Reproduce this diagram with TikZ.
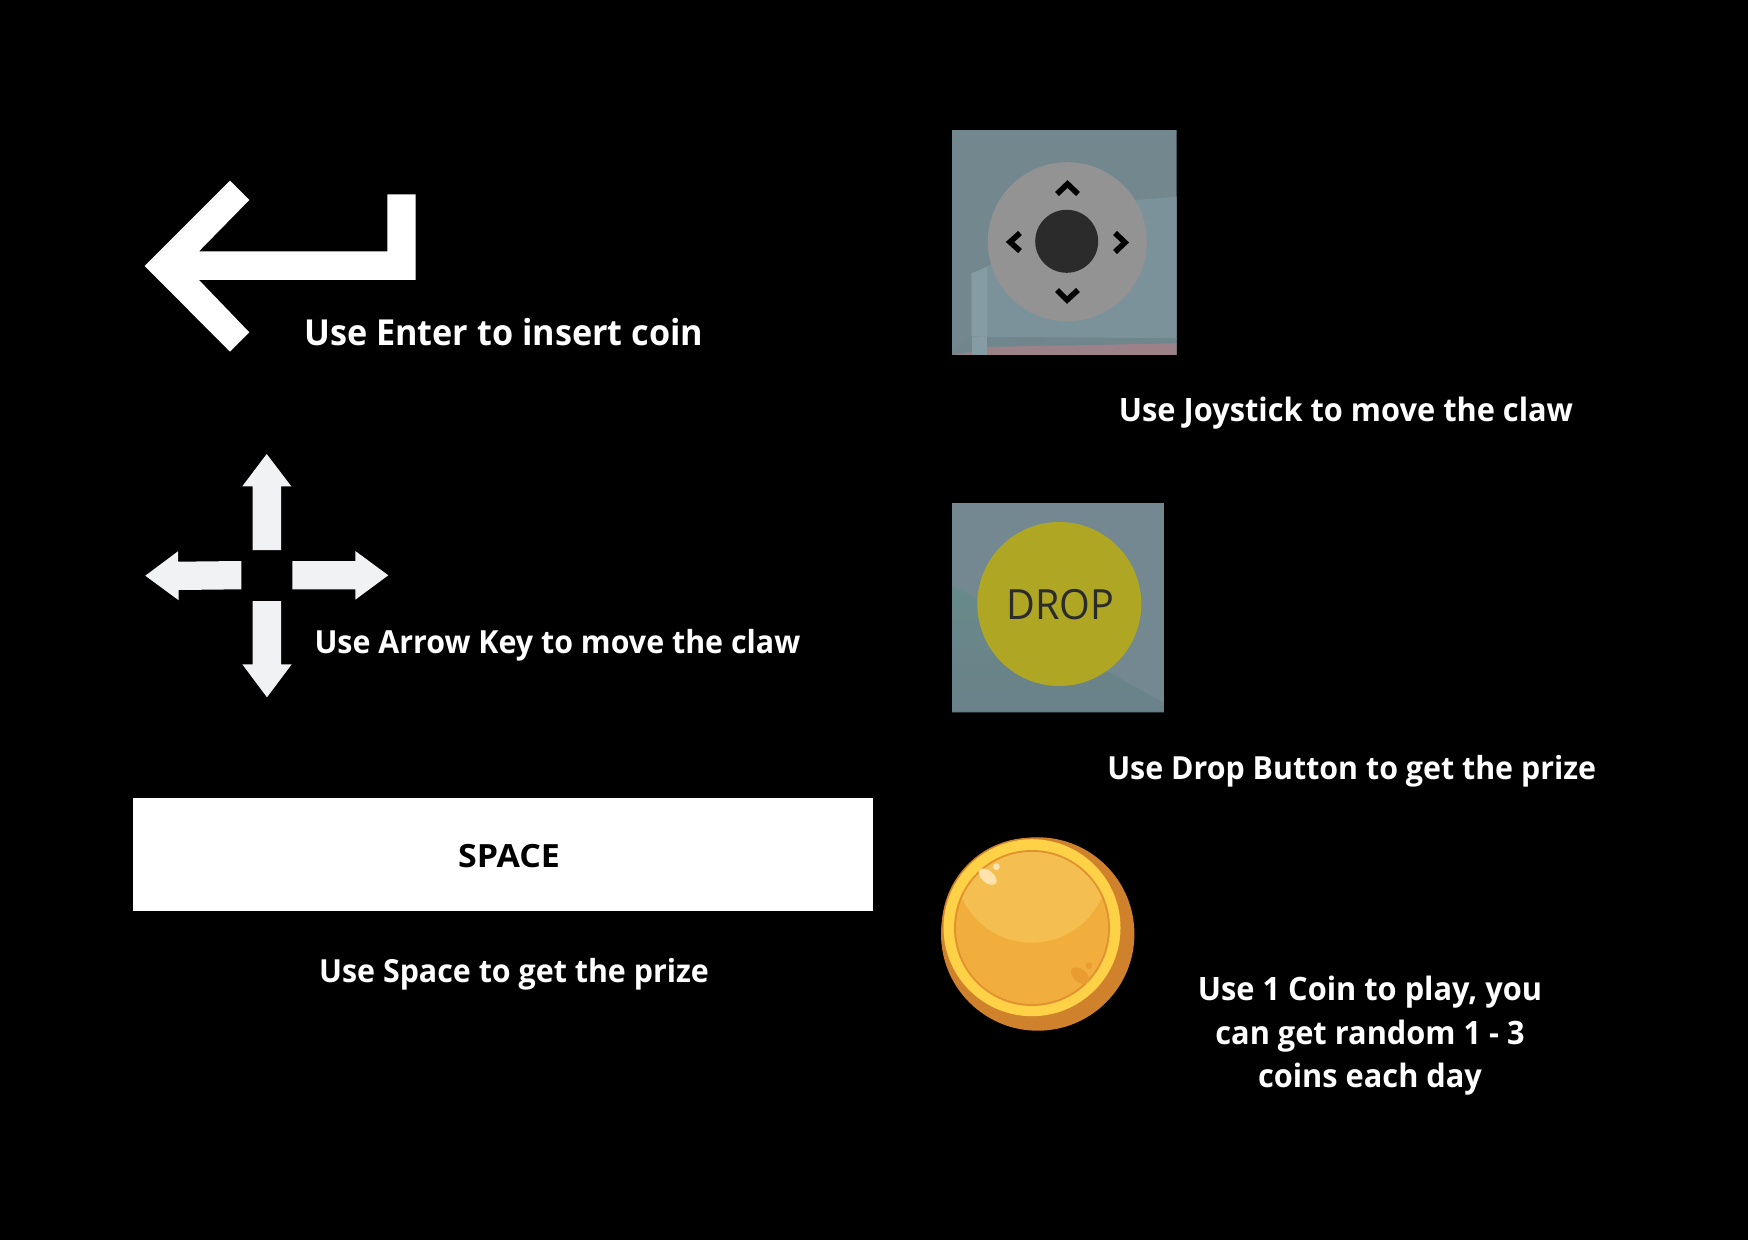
\documentclass[tikz,border=0pt]{standalone}
\usepackage{fontspec}
\setmainfont{Open Sans}
\newfontfamily\capfont[FakeStretch=0.955]{Open Sans}
\newfontfamily\dropfont[FakeStretch=0.95]{Open Sans}
\newfontfamily\spacefont[FakeStretch=1.06]{Open Sans}
\definecolor{joybg}{HTML}{72878E}
\definecolor{joylight}{HTML}{7C929A}
\definecolor{joypale}{HTML}{869CA4}
\definecolor{joypink}{HTML}{9C8189}
\definecolor{joyband}{HTML}{6F868D}
\definecolor{joygrey}{HTML}{939393}
\definecolor{joydark}{HTML}{2B2B2B}
\definecolor{dropbg}{HTML}{738890}
\definecolor{dropband}{HTML}{6A8189}
\definecolor{dropgreen}{HTML}{688A8A}
\definecolor{dropedge}{HTML}{5F7B97}
\definecolor{dropyellow}{HTML}{AFA723}
\definecolor{coinedge}{HTML}{D0812B}
\definecolor{coinring}{HTML}{FFD147}
\definecolor{coinline}{HTML}{E0922E}
\definecolor{coinface}{HTML}{F2AE3D}
\definecolor{coinlight}{HTML}{F5BE50}
\definecolor{coinshine}{HTML}{FFE3AE}
\definecolor{coinspot}{HTML}{E99C30}
\definecolor{keywhite}{HTML}{F1F2F4}
\tikzset{
  caption/.style={text=white,font=\fontsize{16.1}{19}\capfont\bfseries,inner sep=0pt,anchor=base},
  narrowcaption/.style={caption,font=\fontsize{15.9}{19}\capfont\bfseries},
  bigcaption/.style={caption,font=\fontsize{17.9}{21}\capfont\bfseries},
  keyarrow/.style={fill=keywhite,draw=none},
  chevron/.style={draw=black,line width=2.8pt,miter limit=10}
}
\begin{document}
\begin{tikzpicture}[x=0.5pt,y=-0.5pt]
\path[use as bounding box,fill=black] (0,0) rectangle (1748,1240);
% Enter key arrow
\fill[white] (144.7,266) -- (230,180.7) -- (249.3,200) -- (199,251.3) -- (387.3,251.3) -- (387.3,194.3) -- (415.7,194.3) -- (415.7,280) -- (199,280) -- (249.3,332.3) -- (230,351.7) -- cycle;
% Arrow keys
\fill[keyarrow] (266.7,454) -- (291.3,486.3) -- (281,486.3) -- (281,550) -- (252.7,550) -- (252.7,486.3) -- (242.3,486.3) -- cycle;
\fill[keyarrow] (252.7,601) -- (281,601) -- (281,664.3) -- (291.7,664.3) -- (267,697.3) -- (242.3,664.3) -- (252.7,664.3) -- cycle;
\fill[keyarrow] (145.3,575.7) -- (178,551.3) -- (178,561.7) -- (241.3,561) -- (241.3,589.3) -- (178.7,590) -- (178.7,600.3) -- cycle;
\fill[keyarrow] (292.3,561) -- (355.3,561) -- (355.3,551) -- (388.3,575.3) -- (355.3,599.7) -- (355.3,589.3) -- (292.3,589.3) -- cycle;
% Space bar
\node[fill=white,minimum width=370.25pt,minimum height=56.5pt,inner sep=0pt] (spacebar) at (502.75,854.8) {};
\node[text=black,font=\fontsize{16}{19}\spacefont\bfseries,inner sep=0pt,anchor=base] (spacelabel) at (509,867.3) {SPACE};
% Joystick picture
\begin{scope}
\clip (952,130.3) rectangle (1176.7,355);
\fill[joybg] (952,130.3) rectangle (1176.7,355);
\fill[joylight] (971.7,273.3) -- (1136.7,200) -- (1176.7,196.7) -- (1176.7,340) -- (971.7,340) -- cycle;
\fill[joypale] (971.7,273.3) -- (987,267) -- (987,355) -- (971.7,355) -- cycle;
\fill[joyband] (952,350) -- (971.7,336.7) -- (1176.7,338.3) -- (1176.7,345) -- (987,349) -- (952,355) -- cycle;
\fill[joypale] (971.7,337) -- (987,337) -- (987,355) -- (971.7,355) -- cycle;
\fill[joypink] (987,347) -- (1176.7,343.3) -- (1176.7,355) -- (987,355) -- cycle;
\fill[joypink] (952,355) -- (971.7,352) -- (971.7,355) -- cycle;
\end{scope}
\fill[joygrey] (1067.3,241.7) circle[radius=79.5];
\fill[joydark] (1066.7,241.3) circle[radius=31.5];
\draw[chevron] (1057,194) -- (1067.5,184) -- (1078,194);
\draw[chevron] (1057,290) -- (1067,300) -- (1078,290);
\draw[chevron] (1020,233) -- (1010,242) -- (1020,251);
\draw[chevron] (1115,233) -- (1125,242.5) -- (1115,252);
% Drop button picture
\begin{scope}
\clip (952,503.3) rectangle (1164,712.3);
\fill[dropbg] (952,503.3) rectangle (1164,712.3);
\shade[top color=dropgreen,bottom color=dropband] (952,585) -- (1164,703) -- (1164,712.3) -- (952,712.3) -- cycle;
\fill[dropedge] (952,711.3) rectangle (1164,712.3);
\end{scope}
\fill[dropyellow] (1059.3,604) circle[radius=82];
\node[text=joydark,font=\fontsize{20.8}{24}\dropfont,inner sep=0pt,anchor=base] (droplabel) at (1060.5,619) {DROP};
% Coin
\fill[coinedge] (1037.7,934) circle[radius=96.7];
\fill[coinedge] (1031.7,927.7) circle[radius=90];
\fill[coinring] (1032,927.7) circle[radius=88.5];
\fill[coinline] (1032,928) circle[radius=78];
\fill[coinface] (1032,928) circle[radius=76];
\begin{scope}
\clip (1032,928) circle[radius=76];
\fill[coinlight] (1031.7,866) circle[radius=76.7];
\end{scope}
\fill[coinshine,rotate around={-40:(987.7,876.7)}] (987.7,876.7) ellipse[x radius=10.5,y radius=6];
\fill[coinshine] (996.3,866.7) circle[radius=3.4];
\fill[coinspot,rotate around={-40:(1080,975.7)}] (1080,975.7) ellipse[x radius=10.4,y radius=6.5];
\fill[coinspot] (1089,965.7) circle[radius=3.4];
% Captions
\node[bigcaption] (enter) at (503.7,346) {Use Enter to insert coin};
\node[caption] (joy) at (1346,421.5) {Use Joystick to move the claw};
\node[narrowcaption] (arrowkey) at (557.4,653) {Use Arrow Key to move the claw};
\node[narrowcaption] (dropcap) at (1351.7,779) {Use Drop Button to get the prize};
\node[narrowcaption] (spacecap) at (514,982) {Use Space to get the prize};
\node[caption] (coin1) at (1370,1000.5) {Use 1 Coin to play, you};
\node[caption] (coin2) at (1370,1044) {can get random 1 - 3};
\node[caption] (coin3) at (1370,1087.5) {coins each day};
\end{tikzpicture}
\end{document}
